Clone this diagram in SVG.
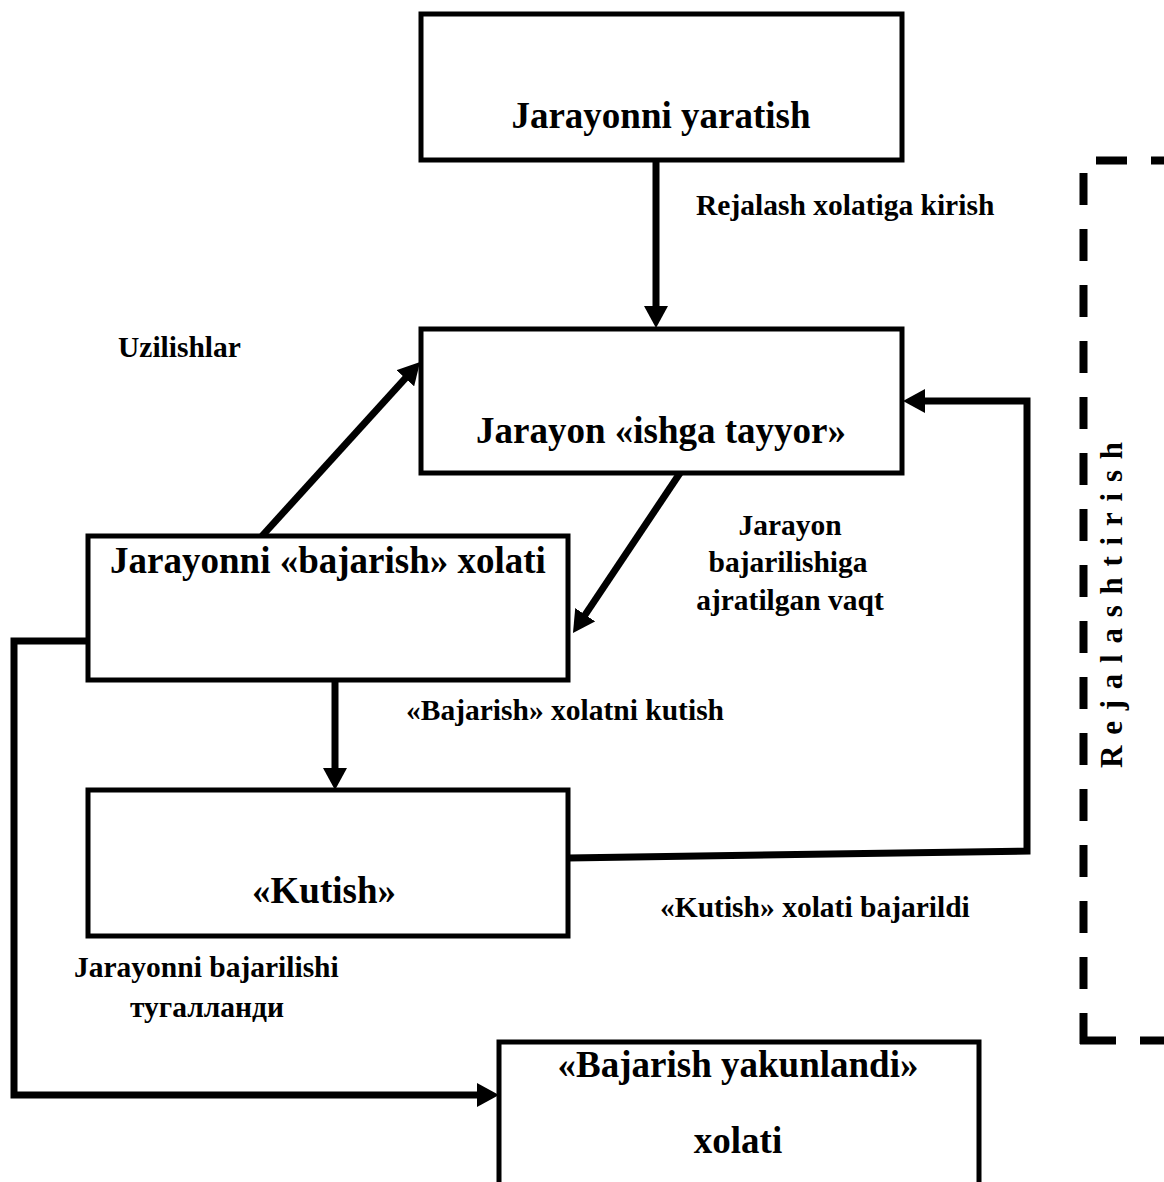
<svg xmlns="http://www.w3.org/2000/svg" width="1164" height="1182" viewBox="0 0 1164 1182">
<style>
.box{fill:#fff;stroke:#000;stroke-width:5}
.conn{fill:none;stroke:#000;stroke-width:7;stroke-linejoin:miter}
.t{font-family:"Liberation Serif","Times New Roman",serif;font-weight:bold;fill:#000}
.big{font-size:37px;text-anchor:middle}
.lbl{font-size:29.5px}
.dash{fill:none;stroke:#000;stroke-width:8;stroke-dasharray:32 24}
</style>
<defs>
<marker id="ah" markerUnits="userSpaceOnUse" viewBox="0 -12 22 24" markerWidth="22" markerHeight="24" refX="2" refY="0" orient="auto">
<path d="M0,-12 L22,0 L0,12 z" fill="#000"/>
</marker>
</defs>
<rect width="1164" height="1182" fill="#fff"/>

<g id="connectors">
<path class="conn" d="M656,160 V308" marker-end="url(#ah)"/>
<path class="conn" d="M262,536 L406.6,376.8" marker-end="url(#ah)"/>
<path class="conn" d="M680,473 L584.1,616.4" marker-end="url(#ah)"/>
<path class="conn" d="M335,680 V770" marker-end="url(#ah)"/>
<path class="conn" d="M568,858 L1027,851 L1027,401 L923,401" marker-end="url(#ah)"/>
<path class="conn" d="M88,641 H14 V1095 H479" marker-end="url(#ah)"/>
</g>

<g id="node-create">
<rect class="box" x="421" y="14" width="481" height="146"/>
<text class="t big" x="661" y="128">Jarayonni yaratish</text>
</g>
<g id="node-ready">
<rect class="box" x="421" y="329" width="481" height="144"/>
<text class="t big" x="661" y="443">Jarayon «ishga tayyor»</text>
</g>
<g id="node-run">
<rect class="box" x="88" y="536" width="480" height="144"/>
<text class="t big" x="328" y="573">Jarayonni «bajarish» xolati</text>
</g>
<g id="node-wait">
<rect class="box" x="88" y="790" width="480" height="146"/>
<text class="t big" x="324" y="903">«Kutish»</text>
</g>
<g id="node-done">
<rect class="box" x="499" y="1042" width="480" height="200"/>
<text class="t big" x="738" y="1077">«Bajarish yakunlandi»</text>
<text class="t big" x="738" y="1153">xolati</text>
</g>

<g id="labels">
<text class="t lbl" x="696" y="215">Rejalash xolatiga kirish</text>
<text class="t lbl" x="118" y="357">Uzilishlar</text>
<text class="t lbl" text-anchor="middle" x="790" y="535">Jarayon</text>
<text class="t lbl" text-anchor="middle" x="788" y="572">bajarilishiga</text>
<text class="t lbl" text-anchor="middle" x="790" y="610">ajratilgan vaqt</text>
<text class="t lbl" x="406" y="720">«Bajarish» xolatni kutish</text>
<text class="t lbl" x="660" y="917">«Kutish» xolati bajarildi</text>
<text class="t lbl" x="74" y="977">Jarayonni bajarilishi</text>
<text class="t lbl" text-anchor="middle" x="207" y="1017">тугалланди</text>
</g>

<g id="scheduling">
<path class="dash" d="M1083.5,173 V1044"/>
<path class="dash" d="M1096,160.5 H1170" style="stroke-dasharray:31 24"/>
<path class="dash" d="M1080,1040.5 H1170" style="stroke-dasharray:36 24"/>
<text class="t" font-size="31" transform="translate(1122,768) rotate(-90)" textLength="326" lengthAdjust="spacing">Rejalashtirish</text>
</g>
</svg>
